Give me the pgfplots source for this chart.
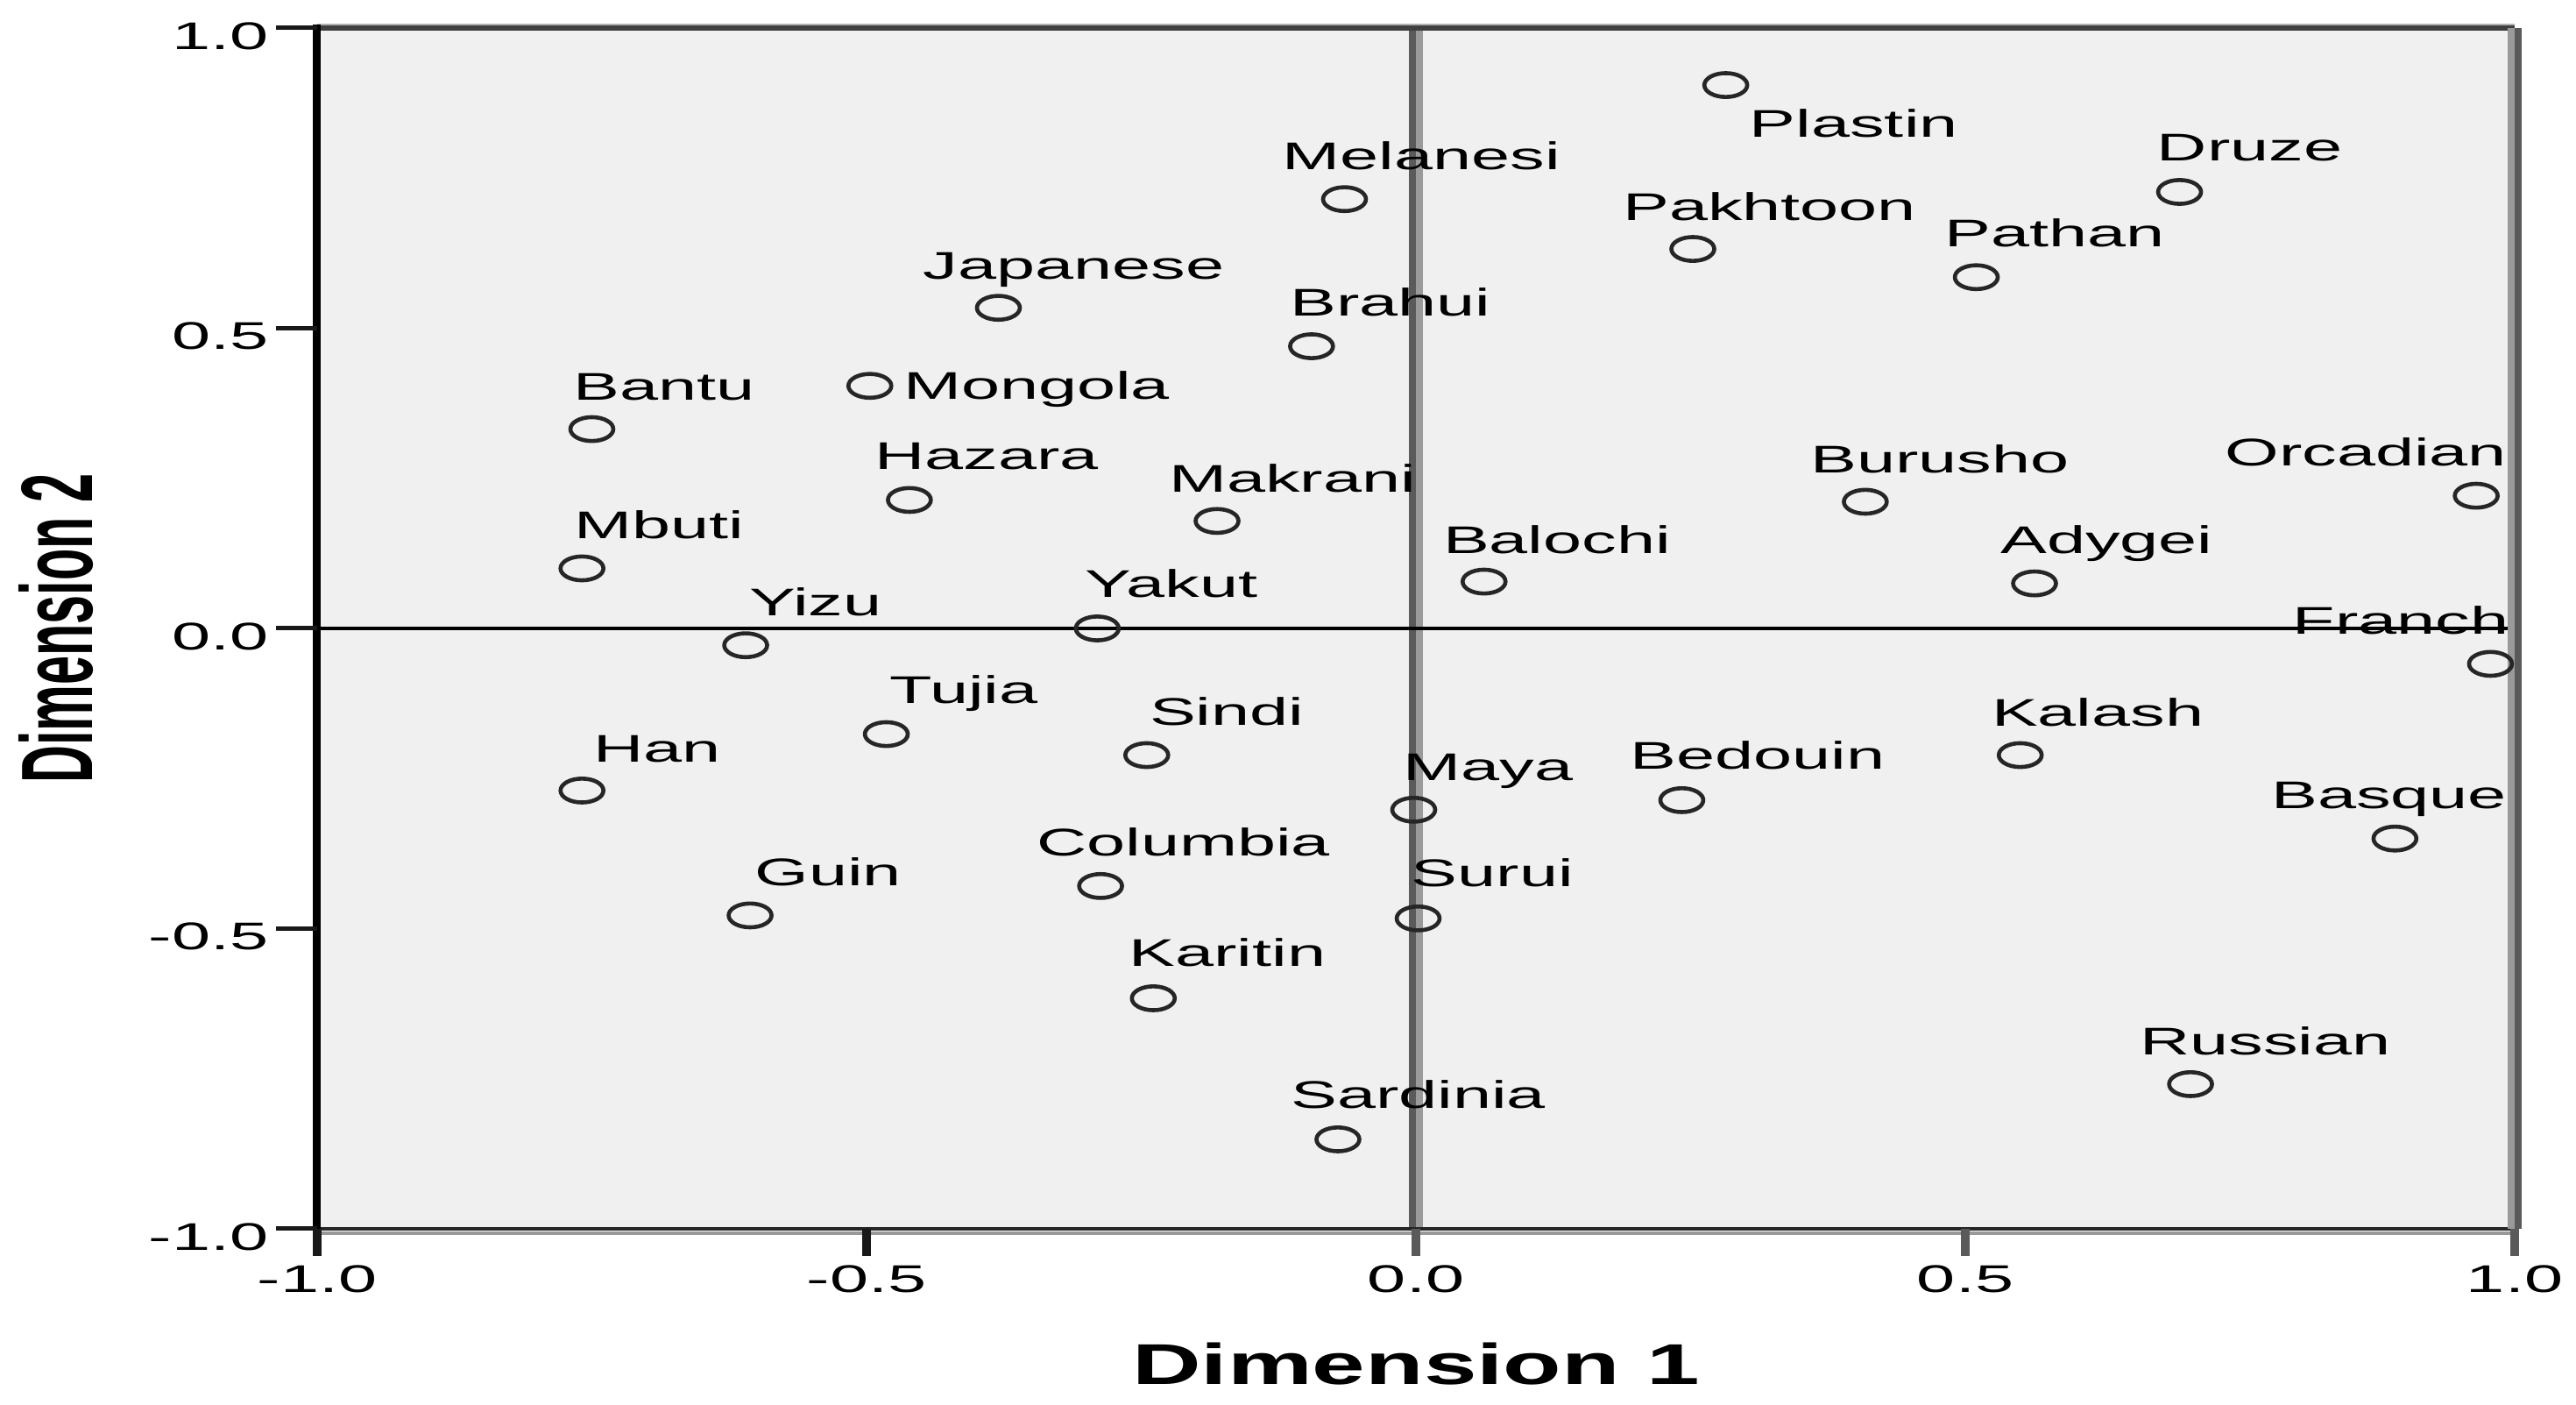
\documentclass[border=0pt]{standalone}
\usepackage{fontspec}
\setmainfont{Liberation Sans}[FakeStretch=1.8]
\newfontfamily\xlabfont{Liberation Sans}[FakeStretch=1.66]
\newfontfamily\ylabfont{Liberation Sans}[FakeStretch=0.512]
\usepackage{pgfplots}
\usepackage{pgfplotstable}
\pgfplotsset{compat=1.18}
\definecolor{bg}{HTML}{F0F0F0}
\definecolor{zdark}{HTML}{5A5A5A}
\definecolor{zlight}{HTML}{9A9A9A}

% x y label dx(px, right) dy(px, up)
\pgfplotstableread{
x y label dx dy
0.282 0.905 Plastin 25 -59
-0.065 0.715 Melanesi -73 34
0.695 0.727 Druze -28 35
0.252 0.632 Pakhtoon -82 33
0.510 0.585 Pathan -38 35
-0.380 0.534 Japanese -88 33
-0.095 0.470 Brahui -27 35
-0.497 0.404 Mongola 36 -15
-0.750 0.332 Bantu -23 33
-0.461 0.214 Hazara -42 35
0.409 0.211 Burusho -65 33
-0.181 0.179 Makrani -57 33
-0.759 0.100 Mbuti -11 34
0.062 0.078 Balochi -49 32
0.563 0.075 Adygei -41 34
-0.290 0.000 Yakut -16 35
-0.610 -0.028 Yizu 2 34
-0.482 -0.176 Tujia 2 35
-0.245 -0.211 Sindi 1 34
0.550 -0.211 Kalash -35 33
-0.759 -0.270 Han 11 32
0.242 -0.286 Bedouin -61 35
-0.002 -0.302 Maya -14 33
-0.287 -0.429 Columbia -75 34
-0.606 -0.478 Guin 3 34
0.002 -0.483 Surui -10 36
-0.239 -0.616 Karitin -30 36
0.705 -0.759 Russian -60 33
-0.071 -0.851 Sardinia -56 35
}\ptsL

\pgfplotstableread{
x y label dx dy
0.965 0.221 Orcadian 37 34
0.978 -0.059 Franch 23 34
0.891 -0.350 Basque 130 34
}\ptsR

\begin{document}
\begin{tikzpicture}
\useasboundingbox (-90.5pt,-50.25pt) rectangle (644.5pt,350.5pt);
\begin{axis}[
  at={(0,0)}, anchor=south west,
  scale only axis, width=627pt, height=342.5pt,
  xmin=-1, xmax=1, ymin=-1, ymax=1,
  clip=false,
  axis line style={draw=none},
  axis background/.style={fill=bg},
  xtick={-1,-0.5,0,0.5,1}, xticklabels={-1.0,-0.5,0.0,0.5,1.0},
  ytick={-1,-0.5,0,0.5,1}, yticklabels={-1.0,-0.5,0.0,0.5,1.0},
  major tick length=0pt, tick style={draw=none},
  ticklabel style={font=\fontsize{11pt}{13pt}\selectfont, inner sep=0pt},
  xticklabel style={anchor=north, yshift=-10.25pt},
  yticklabel style={anchor=east, xshift=-13.75pt, yshift=-2.25pt},
  xlabel={Dimension 1},
  ylabel={Dimension 2},
  xlabel style={at={(axis description cs:0.5,0)}, anchor=base, yshift=-44.5pt, inner sep=0pt,
    font=\xlabfont\bfseries\fontsize{16.4pt}{18pt}\selectfont},
  ylabel style={at={([xshift=-64pt]axis description cs:0,0.5)}, anchor=base, inner sep=0pt,
    font=\ylabfont\bfseries\fontsize{29pt}{30pt}\selectfont},
]
% zero lines
\draw[line width=1.9pt, zdark] ([xshift=-0.95pt]axis cs:0,-1) -- ([xshift=-0.95pt]axis cs:0,1);
\draw[line width=1.9pt, zlight] ([xshift=0.95pt]axis cs:0,-1) -- ([xshift=0.95pt]axis cs:0,1);
\draw[line width=0.9pt, black] (axis cs:-1,0) -- (axis cs:1,0);

\addplot[only marks, mark=o, mark size=3.4pt,
  mark options={xscale=1.8, line width=1.15pt, draw=black!85},
  point meta=explicit symbolic, nodes near coords,
  visualization depends on={\thisrow{dx}\as\dx},
  visualization depends on={\thisrow{dy}\as\dy},
  every node near coord/.append style={anchor=base west, inner sep=0pt,
    font=\fontsize{11pt}{13pt}\selectfont, xshift={\dx*0.25pt}, yshift={\dy*0.25pt}}
] table[x=x, y=y, meta=label] {\ptsL};

\addplot[only marks, mark=o, mark size=3.4pt,
  mark options={xscale=1.8, line width=1.15pt, draw=black!85},
  point meta=explicit symbolic, nodes near coords,
  visualization depends on={\thisrow{dx}\as\dx},
  visualization depends on={\thisrow{dy}\as\dy},
  every node near coord/.append style={anchor=base east, inner sep=0pt,
    font=\fontsize{11pt}{13pt}\selectfont, xshift={\dx*0.25pt}, yshift={\dy*0.25pt}}
] table[x=x, y=y, meta=label] {\ptsR};

% frame
\draw[line width=1.2pt, black!85] (rel axis cs:0,0) -- (rel axis cs:1,0);
\draw[line width=0.9pt, black!40] ([yshift=-1.2pt]rel axis cs:0,0) -- ([yshift=-1.2pt]rel axis cs:1,0);
\draw[line width=1.3pt, black!75] (rel axis cs:0,1) -- (rel axis cs:1,1);
\draw[line width=0.6pt, black!30] ([yshift=1pt]rel axis cs:0,1) -- ([yshift=1pt]rel axis cs:1,1);
\draw[line width=2pt, zlight] ([xshift=-1pt]rel axis cs:1,0) -- ([xshift=-1pt]rel axis cs:1,1);
\draw[line width=2pt, zdark] ([xshift=1pt]rel axis cs:1,0) -- ([xshift=1pt]rel axis cs:1,1);
\draw[line width=2.25pt, black] ([yshift=-1pt]rel axis cs:0,0) -- ([yshift=1pt]rel axis cs:0,1);
% ticks
\pgfplotsinvokeforeach{-1,-0.5,0,0.5,1}{
  \draw[line width=1.25pt, black!90] (axis cs:-1,#1) -- ++(-11.75pt,0pt);
}
\pgfplotsinvokeforeach{-1,-0.5}{
  \draw[line width=2.6pt, black!90] (axis cs:#1,-1) -- ++(0pt,-7.75pt);
}
\pgfplotsinvokeforeach{0,0.5,1}{
  \draw[line width=2.6pt, zdark] (axis cs:#1,-1) -- ++(0pt,-7.75pt);
}
\end{axis}
\end{tikzpicture}
\end{document}
